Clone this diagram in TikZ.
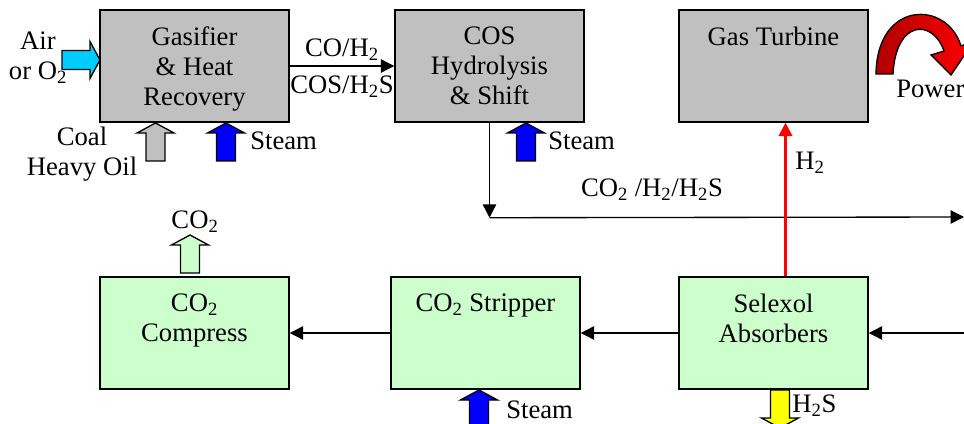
\documentclass[tikz,border=0pt]{standalone}
\usepackage{fontspec}
\setmainfont{Liberation Serif}
\usetikzlibrary{positioning, calc, arrows.meta}

\definecolor{unitgray}{HTML}{C0C0C0}
\definecolor{unitgreen}{HTML}{CCFFCC}
\definecolor{aircyan}{HTML}{00CCFF}
\definecolor{steamblue}{HTML}{0000FF}
\definecolor{sulfur}{HTML}{FFFF00}
\definecolor{powerdark}{HTML}{B00000}
\newcommand{\chemsub}[1]{\textsubscript{#1}}

\tikzset{
  feed/.pic={\draw[line width=1pt, fill=#1] (-9.5,0) -- (-9.5,-28) -- (-18.5,-28) -- (0,-38) -- (18.5,-28) -- (9.5,-28) -- (9.5,0) -- cycle;}
}

\begin{document}
\begin{tikzpicture}[x=0.75pt, y=-0.75pt,
        font=\fontsize{20}{22.5}\selectfont,
        unit/.style={draw, line width=1.1pt, minimum width=141.75pt, minimum height=84pt, inner sep=0pt},
        gray unit/.style={unit, fill=unitgray},
        green unit/.style={unit, fill=unitgreen},
        title/.style={anchor=north, yshift=-13pt, align=center, inner sep=0pt},
        tag/.style={inner sep=0pt, align=center},
        flow/.style={-{Triangle[length=10pt, width=10pt]}, line width=1pt},
        hflow/.style={flow, red, line width=2pt}
    ]
        \clip (0,0) rectangle (964,424);

        % process units
        \node[gray unit, label={[title]north:{Gasifier\\\& Heat\\Recovery}}] (gas) at (194.5,66) {};
        \node[gray unit, label={[title]north:{COS\\Hydrolysis\\\& Shift}}] (cos) at (489.5,66) {};
        \node[gray unit, label={[title]north:{Gas Turbine}}] (gt) at (773.5,66) {};
        \node[green unit, label={[title]north:{CO\chemsub{2}\\Compress}}] (comp) at (194.5,333) {};
        \node[green unit, label={[title]north:{CO\chemsub{2} Stripper}}] (strip) at (485.5,333) {};
        \node[green unit, label={[title]north:{Selexol\\Absorbers}}] (sel) at (773.5,333) {};

        % feeds and products
        \pic[rotate=-90] at (62,60) {feed=aircyan};
        \pic at (155.5,161) {feed=unitgray};
        \pic at (226,161) {feed=steamblue};
        \pic at (526,161) {feed=steamblue};
        \pic at (479,428) {feed=steamblue};
        \pic[rotate=180] at (780,390) {feed=sulfur};
        \pic at (190,273) {feed=unitgreen};
        \draw[line width=1pt, left color=powerdark, right color=red]
            (876,74) .. controls (877,0) and (947,0) .. (961,46) -- (974,41) -- (951,75) -- (931,55)
            -- (944,51) .. controls (933,19) and (896,19) .. (893,74) -- cycle;

        % texts
        \node[tag] (airtxt) at (38,58) {Air\\or O\chemsub{2}};
        \node[tag] (coaltxt) at (82,154) {Coal\\Heavy Oil};
        \node[tag, anchor=west] (steamgas) at (250,141) {Steam};
        \node[tag] (syngas) at (342,50) {CO/H\chemsub{2}};
        \node[tag] (sulfgas) at (342,87) {COS/H\chemsub{2}S};
        \node[tag, anchor=west] (steamcos) at (548,141) {Steam};
        \node[tag] (shiftgas) at (652,190) {CO\chemsub{2} /H\chemsub{2}/H\chemsub{2}S};
        \node[tag, anchor=west] (htxt) at (795,163) {H\chemsub{2}};
        \node[tag] (co2txt) at (195,222) {CO\chemsub{2}};
        \node[tag, anchor=west] (steamstrip) at (506,410) {Steam};
        \node[tag, anchor=west] (h2stxt) at (792,406) {H\chemsub{2}S};
        \node[tag, anchor=west] (powertxt) at (896,89) {Power};

        % connectors
        \coordinate (split) at ($(cos.south)+(0,95)$);
        \coordinate (shiftout) at (964,217);
        \coordinate (syngasin) at (964,333);
        \draw[flow] (gas.east) -- (cos.west);
        \draw[flow] (cos.south) -- (split);
        \draw[flow] (split) -- (shiftout);
        \draw[hflow] ($(sel.north)+(12,0)$) -- ($(gt.south)+(12,0)$);
        \draw[flow] (syngasin) -- (sel.east);
        \draw[flow] (sel.west) -- (strip.east);
        \draw[flow] (strip.west) -- (comp.east);
    \end{tikzpicture}
\end{document}
